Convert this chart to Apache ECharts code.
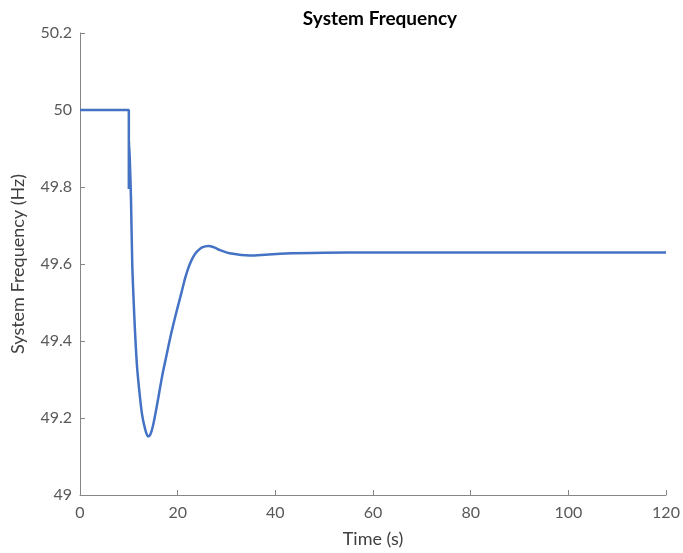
<!DOCTYPE html>
<html>
<head>
<meta charset="utf-8">
<script src="https://cdn.jsdelivr.net/npm/echarts@6/dist/echarts.min.js"></script>
<style>
  html, body { margin: 0; padding: 0; background: #fff; }
  #chart { width: 683px; height: 553px; }
</style>
</head>
<body>
<div id="chart"></div>
<script>
// time (s) and frequency (Hz)
const timeS = [0, 10, 10, 10.05, 10.2, 10.44, 10.7, 11.0, 11.26, 11.7, 12.29, 12.7, 13.1, 13.6, 14.0, 14.5, 15.0, 15.5, 16.0, 16.5, 17.0, 17.5, 18.0, 18.5, 19.0, 19.5, 20.0, 20.5, 21.0, 21.5, 22.0, 22.5, 23.0, 23.5, 24.0, 25.0, 26.3, 27.5, 28.7, 31, 34.8, 38, 42, 50, 60, 80, 100, 120]
const freqHz = [50, 50, 49.795, 49.92, 49.87, 49.77, 49.6, 49.5, 49.426, 49.33, 49.253, 49.21, 49.184, 49.16, 49.152, 49.16, 49.183, 49.215, 49.25, 49.286, 49.32, 49.35, 49.38, 49.41, 49.437, 49.463, 49.488, 49.512, 49.537, 49.562, 49.583, 49.6, 49.614, 49.625, 49.633, 49.643, 49.647, 49.643, 49.636, 49.627, 49.622, 49.624, 49.627, 49.629, 49.63, 49.63, 49.63, 49.63]
const xTicks = [0, 20, 40, 60, 80, 100, 120]
const yTicks = [49, 49.2, 49.4, 49.6, 49.8, 50, 50.2]

const chart = echarts.init(document.getElementById('chart'))
const font = 'Lato, "Open Sans", sans-serif'
const axisColor = '#868686'

chart.setOption({
  animation: false,
  title: {
    text: 'System Frequency',
    left: 375,
    top: 4,
    textAlign: 'center',
    textStyle: { fontFamily: font, fontSize: 19, fontWeight: 'bold', color: '#000' },
  },
  grid: { left: 80, right: 17, top: 33, bottom: 56 },
  xAxis: {
    type: 'value',
    min: xTicks[0],
    max: xTicks[xTicks.length - 1],
    interval: 20,
    name: 'Time (s)',
    nameLocation: 'middle',
    nameGap: 35,
    nameTextStyle: { fontFamily: font, fontSize: 18, color: '#404040' },
    axisLine: { lineStyle: { color: axisColor, width: 1 } },
    axisTick: { inside: true, length: 5, lineStyle: { color: axisColor } },
    axisLabel: { fontFamily: font, fontSize: 16, color: '#595959', margin: 10 },
    splitLine: { show: false },
  },
  yAxis: {
    type: 'value',
    min: yTicks[0],
    max: yTicks[yTicks.length - 1],
    interval: 0.2,
    name: 'System Frequency (Hz)',
    nameLocation: 'middle',
    nameGap: 53,
    nameTextStyle: { fontFamily: font, fontSize: 18, color: '#404040' },
    axisLine: { show: true, lineStyle: { color: axisColor, width: 1 } },
    axisTick: { show: true, inside: true, length: 5, lineStyle: { color: axisColor } },
    axisLabel: {
      fontFamily: font, fontSize: 16, color: '#595959', margin: 8,
      formatter: v => String(+v.toFixed(1)),
    },
    splitLine: { show: false },
  },
  series: [
    {
      type: 'line',
      data: timeS.map((t, i) => [t, freqHz[i]]),
      smooth: 0.3,
      showSymbol: false,
      lineStyle: { color: '#4472C4', width: 2.5 },
    },
  ],
})
</script>
</body>
</html>
